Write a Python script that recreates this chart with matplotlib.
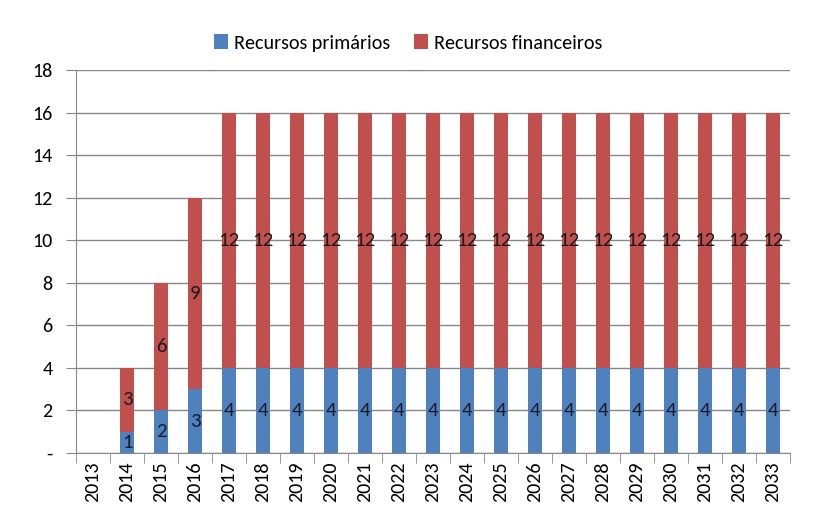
import matplotlib
matplotlib.use("Agg")
import matplotlib.pyplot as plt
import numpy as np
from matplotlib import font_manager

years = [str(y) for y in range(2013, 2034)]
primarios = [0, 1, 2, 3] + [4] * 17
financeiros = [0, 3, 6, 9] + [12] * 17
yticks = [0, 2, 4, 6, 8, 10, 12, 14, 16, 18]
ytick_labels = ["-"] + [str(v) for v in yticks[1:]]

avail = {f.name for f in font_manager.fontManager.ttflist}
fam = "Carlito" if "Carlito" in avail else "Lato"
plt.rcParams["font.family"] = [fam, "DejaVu Sans"]

blue = "#4F81BD"
red = "#C0504D"
grid = "#878787"

fig = plt.figure(figsize=(8.23, 5.29), dpi=100)
ax = fig.add_axes([76 / 823, 1 - 453 / 529, (790 - 76) / 823, (453 - 70) / 529])

x = np.arange(len(years))
w = 0.40
b1 = ax.bar(x, primarios, w, color=blue, label="Recursos primários", zorder=2)
b2 = ax.bar(x, financeiros, w, bottom=primarios, color=red, label="Recursos financeiros", zorder=2)

for i in range(len(years)):
    if primarios[i] > 0:
        ax.text(x[i], primarios[i] / 2, str(primarios[i]), ha="center", va="center",
                fontsize=15, color="#1a1a2e", zorder=3)
    if financeiros[i] > 0:
        ax.text(x[i], primarios[i] + financeiros[i] / 2, str(financeiros[i]), ha="center",
                va="center", fontsize=15, color="#1a1a1a", zorder=3)

ax.set_xlim(-0.5, len(years) - 0.5)
ax.set_ylim(0, 18)
ax.set_yticks(yticks)
ax.set_yticklabels(ytick_labels, fontsize=14.5)
ax.set_xticks(x)
ax.set_xticklabels(years, rotation=90, fontsize=14.5)
ax.set_xticks(np.arange(-0.5, len(years), 1), minor=True)
ax.tick_params(axis="x", which="major", length=0, pad=6)
ax.tick_params(axis="x", which="minor", length=7, color=grid, direction="out")
ax.tick_params(axis="y", length=7, color=grid, pad=10)

for s in ["top", "right"]:
    ax.spines[s].set_visible(False)
ax.spines["left"].set_color(grid)
ax.spines["bottom"].set_color(grid)
ax.yaxis.grid(True, color=grid, linewidth=1, zorder=0)
ax.set_axisbelow(True)

leg = fig.legend(handles=[b1, b2], loc="center", bbox_to_anchor=(408 / 823, 1 - 43 / 529),
                 ncol=2, frameon=False, fontsize=14.5, handlelength=0.7, handleheight=0.7,
                 handletextpad=0.3, columnspacing=1.2)

fig.savefig("out.png", dpi=100)
